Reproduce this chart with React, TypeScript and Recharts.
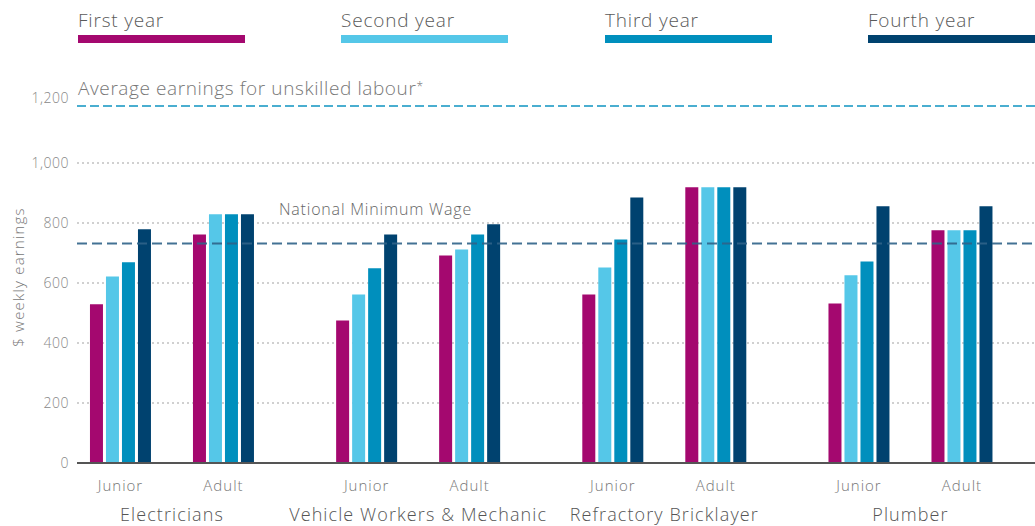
import React from 'react';
import { BarChart, Bar, XAxis, YAxis, CartesianGrid, ReferenceLine } from 'recharts';

const groups = ['Electricians', 'Vehicle Workers & Mechanic', 'Refractory Bricklayer', 'Plumber'];
const levels = ['Junior', 'Adult'];

const firstYear = [529, 762, 475, 692, 562, 919, 532, 776];
const secondYear = [622, 829, 562, 712, 652, 919, 626, 776];
const thirdYear = [669, 829, 649, 762, 745, 919, 672, 776];
const fourthYear = [779, 829, 762, 796, 885, 919, 856, 856];

const seriesNames = ['First year', 'Second year', 'Third year', 'Fourth year'];
const seriesKeys = ['first', 'second', 'third', 'fourth'];
const COLORS = ['#A4086F', '#55C7E8', '#008FBD', '#00426F'];

const yTicks = [0, 200, 400, 600, 800, 1000, 1200];
const gridValues = [200, 400, 600, 800, 1000];

const avgUnskilled = 1190;
const minWage = 732;

// layout of the numeric x axis: Junior/Adult one unit apart, trades GROUP_STEP apart
const GROUP_STEP = 2.39;
const X_DOMAIN: [number, number] = [-0.422, 8.879];

const FONT = '"Open Sans", Lato, sans-serif';

const data = firstYear.map((_, i) => ({
  x: Math.floor(i / 2) * GROUP_STEP + (i % 2),
  level: levels[i % 2],
  first: firstYear[i],
  second: secondYear[i],
  third: thirdYear[i],
  fourth: fourthYear[i],
}));

const levelTicks = data.map(d => d.x);
const groupTicks = groups.map((_, g) => g * GROUP_STEP + 0.5);

const LevelTick = ({ x, y, index }: any) => (
  <text x={x} y={y + 20} textAnchor="middle" fill="#777" fontSize={15} fontFamily={FONT} fontWeight={300} style={{ letterSpacing: 1 }}>
    {levels[index % 2]}
  </text>
);

const GroupTick = ({ x, y, index }: any) => (
  <text x={x} y={y + 20} textAnchor="middle" fill="#555" fontSize={18} fontFamily={FONT} fontWeight={300} style={{ letterSpacing: 1.1 }}>
    {groups[index]}
  </text>
);

const YTick = ({ x, y, payload }: any) => (
  <text x={x} y={y + 5 - (payload.value === 1200 ? 5 : 0)} textAnchor="end" fill="#888" fontSize={14} fontFamily={FONT} fontWeight={300} style={{ letterSpacing: 0.5 }}>
    {payload.value.toLocaleString('en-US')}
  </text>
);

const AvgLabel = ({ viewBox }: any) => (
  <text x={viewBox.x + 1} y={viewBox.y - 11} fill="#777" fontSize={19} fontFamily={FONT} fontWeight={300} style={{ letterSpacing: 0.6 }}>
    Average earnings for unskilled labour<tspan fontSize={12} dy={-4}>*</tspan>
  </text>
);

const WageLabel = ({ viewBox }: any) => (
  <text x={279} y={viewBox.y - 28} fill="#666" fontSize={16} fontFamily={FONT} fontWeight={300} style={{ letterSpacing: 0.8 }}>
    National Minimum Wage
  </text>
);

const YLabel = () => (
  <text x={24} y={277} transform="rotate(-90, 24, 277)" textAnchor="middle" fill="#777" fontSize={15} fontFamily={FONT} fontWeight={300} style={{ letterSpacing: 1.2 }}>
    $ weekly earnings
  </text>
);

const legendX = [78, 341, 605, 868];

const App: React.FC = () => (
  <div style={{ position: 'absolute', left: 0, top: 0, width: 1035, height: 526, background: '#fff' }}>
    {seriesNames.map((name, i) => (
      <div key={name} style={{ position: 'absolute', left: legendX[i], top: 0, width: 167 }}>
        <div style={{ fontFamily: FONT, fontWeight: 300, fontSize: 19, color: '#5a5a5a', lineHeight: '24px', marginTop: 8, letterSpacing: 0.8 }}>{name}</div>
        <div style={{ height: 8, background: COLORS[i], marginTop: 3 }} />
      </div>
    ))}
    <div style={{ position: 'absolute', left: 0, top: 0 }}>
      <BarChart
        width={1035}
        height={526}
        data={data}
        margin={{ top: 103, right: 0, left: 0, bottom: 0 }}
        barSize={13}
        barGap={3}
      >
        <CartesianGrid horizontal vertical={false} horizontalValues={gridValues} stroke="#d0d0d0" strokeWidth={2} strokeDasharray="2 3" />
        <XAxis
          dataKey="x"
          type="number"
          scale="linear"
          domain={X_DOMAIN}
          allowDataOverflow
          ticks={levelTicks}
          interval={0}
          tick={<LevelTick />}
          tickLine={false}
          axisLine={{ stroke: '#555', strokeWidth: 2 }}
          height={30}
        />
        <XAxis
          xAxisId="grp"
          dataKey="x"
          type="number"
          scale="linear"
          domain={X_DOMAIN}
          allowDataOverflow
          ticks={groupTicks}
          interval={0}
          tick={<GroupTick />}
          tickLine={false}
          axisLine={false}
          height={33}
        />
        <YAxis
          width={77}
          domain={[0, 1200]}
          ticks={yTicks}
          interval={0}
          tick={<YTick />}
          tickLine={false}
          axisLine={false}
          label={<YLabel />}
        />
        <ReferenceLine y={avgUnskilled} stroke="#4AAED0" strokeWidth={2} strokeDasharray="9 4" label={<AvgLabel />} />
        {seriesKeys.map((k, i) => (
          <Bar key={k} dataKey={k} name={seriesNames[i]} fill={COLORS[i]} isAnimationActive={false} />
        ))}
        <ReferenceLine y={minWage} stroke="#2F6388" strokeOpacity={0.9} strokeWidth={2} strokeDasharray="10 5" label={<WageLabel />} />
      </BarChart>
    </div>
  </div>
);

export default App;
